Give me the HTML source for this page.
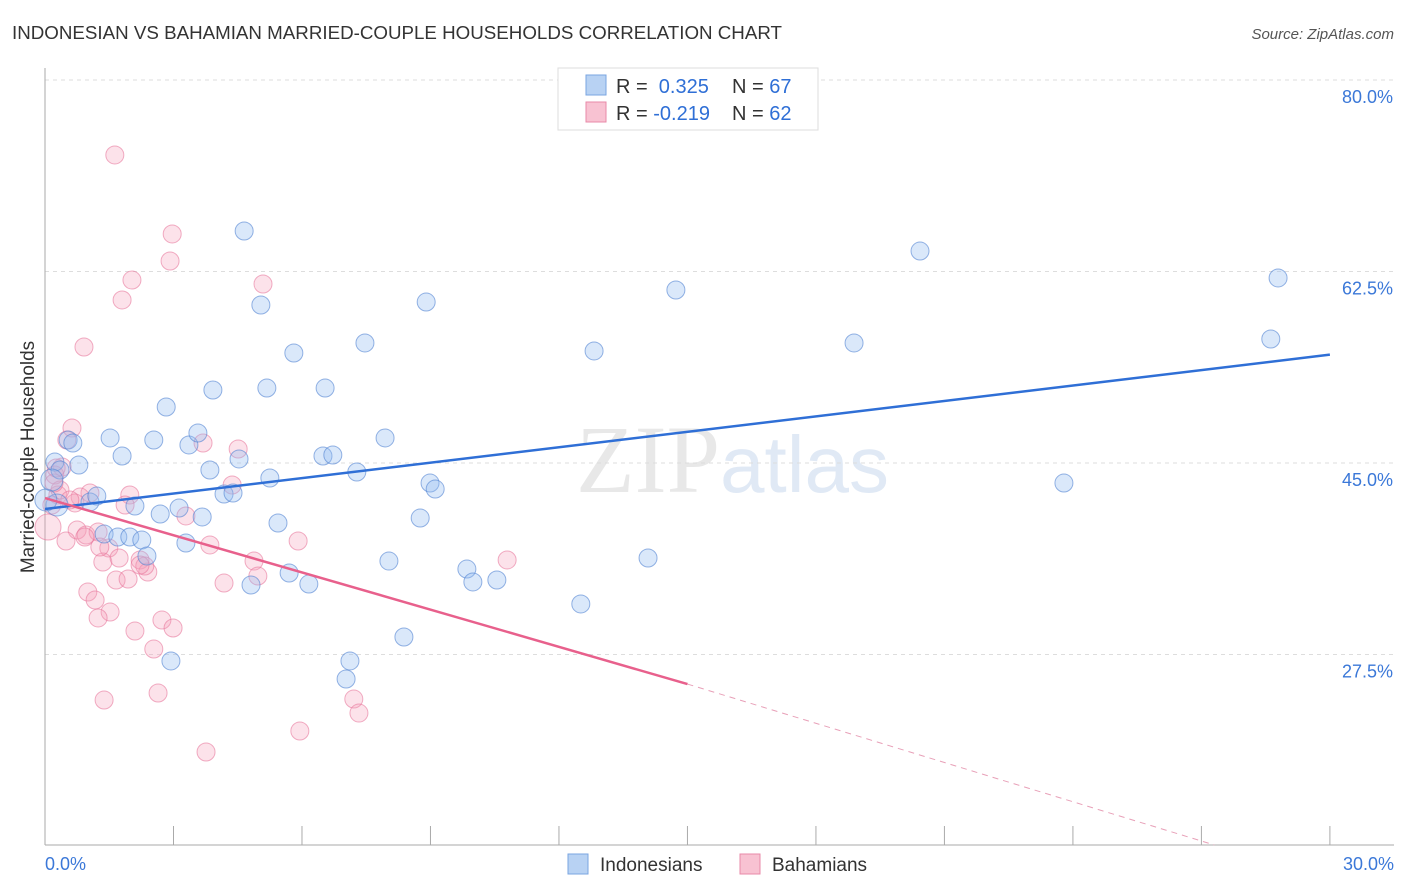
<!DOCTYPE html>
<html><head><meta charset="utf-8"><style>
body{margin:0;background:#fff;font-family:"Liberation Sans",sans-serif}
svg{display:block}
</style></head><body>
<svg id="chart" width="1406" height="892">
<text x="12" y="39" font-size="18" fill="#333" textLength="770" lengthAdjust="spacingAndGlyphs">INDONESIAN VS BAHAMIAN MARRIED-COUPLE HOUSEHOLDS CORRELATION CHART</text>
<text x="1394" y="39" font-size="15" fill="#555" font-style="italic" text-anchor="end">Source: ZipAtlas.com</text>
<text x="720" y="492" font-size="96" fill="#e8e8e8" font-family="Liberation Serif" text-anchor="end">ZIP</text>
<text x="720" y="492" font-size="80" fill="#e0e9f5">atlas</text>
<g id="grid"></g><g id="axes"></g><g id="pts"></g><g id="lines"></g>
<text transform="translate(34,457) rotate(-90)" font-size="19" fill="#333" text-anchor="middle">Married-couple Households</text>
<g>
<rect x="558" y="68" width="260" height="62" fill="#fff" stroke="#ddd"/>
<rect x="586" y="75" width="20" height="20" fill="#b8d2f3" stroke="#7aa5e0"/>
<rect x="586" y="102" width="20" height="20" fill="#f8c2d2" stroke="#e88aa8"/>
<text x="616" y="93" font-size="20" fill="#333">R = <tspan fill="#2f6fd6">&#160;0.325</tspan><tspan x="732">N = </tspan><tspan fill="#2f6fd6">67</tspan></text>
<text x="616" y="120" font-size="20" fill="#333">R = <tspan fill="#2f6fd6">-0.219</tspan><tspan x="732">N = </tspan><tspan fill="#2f6fd6">62</tspan></text>
</g>
<g>
<rect x="568" y="854" width="20" height="20" fill="#b8d2f3" stroke="#7aa5e0"/>
<text x="600" y="871" font-size="19" fill="#333">Indonesians</text>
<rect x="740" y="854" width="20" height="20" fill="#f8c2d2" stroke="#e88aa8"/>
<text x="772" y="871" font-size="19" fill="#333">Bahamians</text>
</g>
</svg>
<script>
const xTicks=[0,3,6,9,12,15,18,21,24,27,30];
const yTicks=[80,62.5,45,27.5];
const yTickLabels=["80.0%","62.5%","45.0%","27.5%"];
const bluePx=[[55,462],[60,470],[68,440],[73,443],[79,465],[90,502],[97,496],[104,534],[110,438],[118,537],[122,456],[130,537],[135,506],[142,540],[147,556],[154,440],[160,514],[166,407],[171,661],[179,508],[186,543],[189,445],[198,433],[202,517],[210,470],[213,390],[224,494],[233,493],[239,459],[244,231],[251,585],[261,305],[267,388],[270,478],[278,523],[289,573],[294,353],[309,584],[323,456],[325,388],[333,455],[346,679],[350,661],[357,472],[365,343],[385,438],[389,561],[404,637],[420,518],[426,302],[430,483],[435,489],[467,569],[473,582],[497,580],[581,604],[594,351],[648,558],[676,290],[854,343],[920,251],[1064,483],[1271,339],[1278,278],[52,480],[57,505],[46,500]];
const pinkPx=[[115,155],[172,234],[170,261],[132,280],[122,300],[263,284],[84,347],[72,428],[67,440],[62,467],[55,475],[58,495],[52,505],[48,527],[90,493],[80,497],[75,503],[77,530],[86,535],[98,532],[66,541],[109,548],[103,562],[119,558],[130,495],[140,560],[148,572],[145,566],[116,580],[128,579],[88,592],[95,600],[110,612],[98,618],[135,631],[162,620],[173,628],[154,649],[104,700],[158,693],[186,516],[203,443],[210,545],[238,449],[232,485],[224,583],[254,561],[258,576],[298,541],[300,731],[354,699],[359,713],[206,752],[507,560],[85,537],[100,547],[60,490],[54,483],[56,468],[140,565],[125,505],[70,500]];
const blueX=bluePx.map(p=>+((p[0]-45)/42.83).toFixed(2));
const blueY=bluePx.map(p=>+(80-(p[1]-80)/10.943).toFixed(2));
const pinkX=pinkPx.map(p=>+((p[0]-45)/42.83).toFixed(2));
const pinkY=pinkPx.map(p=>+(80-(p[1]-80)/10.943).toFixed(2));
const blueTrend=[[0,40.8],[30,54.9]];
const pinkTrend=[[0,41.8],[15,24.8],[27.3,10.1]];
const X=v=>45+v*42.83, Y=v=>80+(80-v)*10.943;
const NS="http://www.w3.org/2000/svg";
function mk(tag,a,parent){const e=document.createElementNS(NS,tag);for(const k in a)e.setAttribute(k,a[k]);document.getElementById(parent).appendChild(e);return e;}
yTicks.forEach((t,i)=>{
 const l=mk('line',{x1:45,x2:1394,y1:Y(t),y2:Y(t),stroke:'#ddd','stroke-dasharray':'4,4'},'grid');
 
 
 const tx=mk('text',{x:1393,y:Y(t)+23,'font-size':18,fill:'#3b78d8','text-anchor':'end'},'axes');
 tx.textContent=yTickLabels[i];
 
 
});
mk('line',{x1:45,x2:45,y1:68,y2:845,stroke:'#aaa'},'axes');
mk('line',{x1:45,x2:1394,y1:845,y2:845,stroke:'#aaa'},'axes');
xTicks.forEach(t=>{const l=mk('line',{x1:X(t),x2:X(t),y1:826,y2:845,stroke:'#aaa'},'axes');
 
 });
let a=mk('text',{x:45,y:870,'font-size':18,fill:'#3b78d8'},'axes');a.textContent='0.0%';


a=mk('text',{x:1394,y:870,'font-size':18,fill:'#3b78d8','text-anchor':'end'},'axes');a.textContent='30.0%';


pinkX.forEach((x,i)=>{const c=mk('circle',{cx:X(x),cy:Y(pinkY[i]),r:i==13?13:9,fill:'rgba(244,160,186,0.3)',stroke:'rgba(232,120,156,0.6)'},'pts');
 
 });
blueX.forEach((x,i)=>{const c=mk('circle',{cx:X(x),cy:Y(blueY[i]),r:i>=64?11:9,fill:'rgba(150,190,240,0.35)',stroke:'rgba(80,130,210,0.6)'},'pts');
 
 });
let t=mk('line',{x1:X(blueTrend[0][0]),y1:Y(blueTrend[0][1]),x2:X(blueTrend[1][0]),y2:Y(blueTrend[1][1]),stroke:'#2f6fd6','stroke-width':2.5},'lines');


t=mk('line',{x1:X(pinkTrend[0][0]),y1:Y(pinkTrend[0][1]),x2:X(pinkTrend[1][0]),y2:Y(pinkTrend[1][1]),stroke:'#e8608c','stroke-width':2.5},'lines');


t=mk('line',{x1:X(pinkTrend[1][0]),y1:Y(pinkTrend[1][1]),x2:X(pinkTrend[2][0]),y2:Y(pinkTrend[2][1]),stroke:'#e8a0b8','stroke-width':1,'stroke-dasharray':'6,5'},'lines');


</script>
</body></html>
